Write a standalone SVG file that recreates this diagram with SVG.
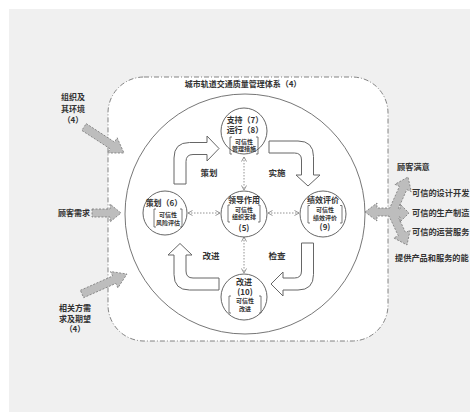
<svg xmlns="http://www.w3.org/2000/svg" width="470" height="412" viewBox="0 0 470 412">
<defs>
<style>
text{font-family:'Noto Sans CJK SC','Noto Sans',sans-serif;font-weight:700;fill:#333;}
.t8{font-size:8px;}
.t85{font-size:8.5px;}
.tr{font-size:8.2px;}
.t6{font-size:6px;}
.m{text-anchor:middle;}
.node{fill:#fff;stroke:#555;stroke-width:0.9;}
.brk{fill:none;stroke:#555;stroke-width:0.8;}
.cyc{fill:#fff;stroke:#666;stroke-width:1;}
.gray{fill:#bdbdbd;stroke:#777;stroke-width:0.8;stroke-dasharray:2,1.5;}
.dot{stroke:#888;stroke-width:0.9;stroke-dasharray:1.5,1.5;fill:none;}
</style>
<marker id="ah" viewBox="0 0 6 6" refX="5.5" refY="3" markerWidth="6" markerHeight="6" markerUnits="userSpaceOnUse" orient="auto-start-reverse">
<path d="M1,0.5 L5.5,3 L1,5.5" fill="none" stroke="#888" stroke-width="0.9"/>
</marker>
</defs>
<rect x="0" y="0" width="470" height="412" fill="#fff"/>
<rect x="9" y="9" width="461" height="403" fill="#f0f0f0"/>

<g id="system">
<rect x="108" y="77" width="280" height="264" rx="36" ry="36" fill="#fff" stroke="#666" stroke-width="0.8" stroke-dasharray="5,2,1,2"/>
<text class="t8 m" x="243" y="87">城市轨道交通质量管理体系（4）</text>
<circle cx="245" cy="214" r="120" fill="#fff" stroke="#666" stroke-width="0.9"/>
</g>

<g id="cycle">
<path class="cyc" d="M174,184 L174,158 Q174,142.5 189.5,142.5 L207,142.5 L207,136 L219,148.5 L207,161 L207,154.5 L193,154.5 Q186,154.5 186,161.5 L186,184 Z"/>
<path class="cyc" d="M269,141 L298,141 Q313.5,141 313.5,156.5 L313.5,175 L320,175 L308,186 L296,175 L301.5,175 L301.5,160 Q301.5,153 294.5,153 L269,153 Z"/>
<path class="cyc" d="M301.5,243 L313.5,243 L313.5,274.5 Q313.5,290 298,290 L283,290 L283,296 L271,284 L283,272 L283,278 L294.5,278 Q301.5,278 301.5,271 Z"/>
<path class="cyc" d="M219,278 L219,290 L189.5,290 Q174,290 174,274.5 L174,255 L168,255 L180,243.5 L192,255 L186,255 L186,271 Q186,278 193,278 Z"/>
<text class="t85 m" x="209" y="176">策划</text>
<text class="t85 m" x="277" y="176">实施</text>
<text class="t85 m" x="211" y="259">改进</text>
<text class="t85 m" x="277" y="259">检查</text>
</g>

<g id="connectors">
<line class="dot" x1="244" y1="157" x2="244" y2="190" marker-start="url(#ah)" marker-end="url(#ah)"/>
<line class="dot" x1="244" y1="237" x2="244" y2="273" marker-start="url(#ah)" marker-end="url(#ah)"/>
<line class="dot" x1="188" y1="213" x2="220" y2="213" marker-start="url(#ah)" marker-end="url(#ah)"/>
<line class="dot" x1="268" y1="213" x2="299" y2="213" marker-start="url(#ah)" marker-end="url(#ah)"/>
</g>

<g id="support">
<circle class="node" cx="244" cy="131" r="23"/>
<text class="t8 m" x="245" y="122.5">支持（7）</text>
<text class="t8 m" x="245" y="132.5">运行（8）</text>
<path class="brk" d="M232,137 L230,137 L230,154 L232,154 M256,137 L258,137 L258,154 L256,154"/>
<text class="t6 m" x="244" y="143.5">可信性</text>
<text class="t6 m" x="244" y="151.3">管理措施</text>
</g>

<g id="leadership">
<circle class="node" cx="244" cy="214" r="23"/>
<text class="t8 m" x="244" y="203">领导作用</text>
<path class="brk" d="M230,205 L228,205 L228,222 L230,222 M258,205 L260,205 L260,222 L258,222"/>
<text class="t6 m" x="244" y="211.5">可信性</text>
<text class="t6 m" x="244" y="219">组织安排</text>
<text class="t8 m" x="244" y="231">(5)</text>
</g>

<g id="planning">
<circle class="node" cx="165" cy="213" r="22"/>
<text class="t8 m" x="164" y="205.5">策划（6）</text>
<path class="brk" d="M156,209 L154,209 L154,227 L156,227 M180,209 L182,209 L182,227 L180,227"/>
<text class="t6 m" x="168" y="217">可信性</text>
<text class="t6 m" x="168" y="225">风险评估</text>
</g>

<g id="evaluation">
<circle class="node" cx="323" cy="214" r="23"/>
<text class="t8 m" x="323" y="202.8">绩效评价</text>
<path class="brk" d="M310,205.5 L308,205.5 L308,223 L310,223 M340,205.5 L342,205.5 L342,223 L340,223"/>
<text class="t6 m" x="325" y="211.5">可信性</text>
<text class="t6 m" x="325" y="219.5">绩效评价</text>
<text class="t8 m" x="325" y="229.5">(9)</text>
</g>

<g id="improvement">
<circle class="node" cx="244" cy="297" r="23"/>
<text class="t8 m" x="244" y="285">改进</text>
<text class="t8 m" x="245" y="295">(10)</text>
<path class="brk" d="M231,296 L229,296 L229,313 L231,313 M259,296 L261,296 L261,313 L259,313"/>
<text class="t6 m" x="245" y="302.5">可信性</text>
<text class="t6 m" x="245" y="310.5">改进</text>
</g>

<g id="inputs">
<polygon class="gray" points="86.2,123.6 114.5,142 117.2,137.8 124,153 107.4,153 110.1,148.8 81.8,130.4"/>
<polygon class="gray" points="92,209 110,209 110,204 121,213 110,222 110,217 92,217"/>
<polygon class="gray" points="80.4,290.3 112.6,276 110.5,271.5 127,274 117.9,287.9 115.8,283.4 83.6,297.7"/>
<text class="t8 m" x="73" y="100">组织及</text>
<text class="t8 m" x="73" y="111.5">其环境</text>
<text class="t8 m" x="73" y="123">（4）</text>
<text class="t8" x="90" y="216" text-anchor="end">顾客需求</text>
<text class="t8 m" x="75" y="311">相关方需</text>
<text class="t8 m" x="75" y="321.5">求及期望</text>
<text class="t8 m" x="75" y="332">（4）</text>
</g>

<g id="outputs">
<polygon class="gray" points="365,212 377,203 377,208 389.8,208 399.4,186.4 394.9,184.3 408,177 411.3,191.7 406.8,189.6 398.2,209 400,209 400,204 409,213 400,222 400,217 398.3,217 405.5,232.4 410.1,230.3 407,245 393.7,237.9 398.3,235.8 389,216 377,216 377,221"/>
<text class="tr" x="397" y="170">顾客满意</text>
<text class="tr" x="412" y="196">可信的设计开发</text>
<text class="tr" x="412" y="216">可信的生产制造</text>
<text class="tr" x="412" y="235">可信的运营服务</text>
<text class="tr" x="395" y="261">提供产品和服务的能</text>
</g>
</svg>
